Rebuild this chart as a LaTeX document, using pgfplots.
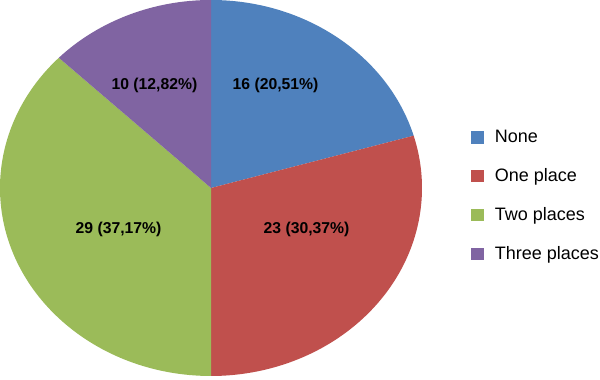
\documentclass[border=0pt]{standalone}
\usepackage{pgfplots}
\usepackage{pgfplotstable}
\pgfplotsset{compat=1.18}
\usepackage{fontspec}
\setmainfont{Liberation Sans}
\definecolor{pieblue}{HTML}{4F81BD}
\definecolor{piered}{HTML}{C0504D}
\definecolor{piegreen}{HTML}{9BBB59}
\definecolor{piepurple}{HTML}{8064A2}
\pgfplotstableread{
label value
None 16
{One place} 23
{Two places} 29
{Three places} 10
}\piedata
\begin{document}
\begin{tikzpicture}
\pgfplotstablegetelem{0}{value}\of\piedata \let\vA\pgfplotsretval
\pgfplotstablegetelem{1}{value}\of\piedata \let\vB\pgfplotsretval
\pgfplotstablegetelem{2}{value}\of\piedata \let\vC\pgfplotsretval
\pgfplotstablegetelem{3}{value}\of\piedata \let\vD\pgfplotsretval
\pgfmathsetmacro\total{\vA+\vB+\vC+\vD}
\pgfmathsetmacro\aA{90}
\pgfmathsetmacro\aB{\aA-360*\vA/\total}
\pgfmathsetmacro\aC{\aB-360*\vB/\total}
\pgfmathsetmacro\aD{\aC-360*\vC/\total}
\pgfmathsetmacro\aE{\aD-360*\vD/\total}
\def\rx{158.25pt}
\def\ry{141pt}
\begin{axis}[
  x=158.25pt, y=141pt,
  xmin=-1, xmax=1.8436, ymin=-1.016, ymax=1,
  hide axis, clip=false,
  legend style={at={(axis cs:1.232,0.324)}, anchor=north west, draw=none, fill=none,
    inner sep=0pt, font=\fontsize{13.5}{15}\selectfont, row sep=14pt,
    /tikz/every odd column/.append style={column sep=6pt}},
  legend cell align=left,
  legend image code/.code={\fill[#1, draw=none] (0pt,-4.75pt) rectangle (9.75pt,4.75pt);},
]
\coordinate (bl) at (axis cs:-1,-1.016);
\coordinate (tr) at (axis cs:1.8436,1);
\fill[pieblue] (axis cs:0,0) -- (axis cs:{cos(\aA)},{sin(\aA)}) arc[start angle=\aA, end angle=\aB, x radius=\rx, y radius=\ry] -- cycle;
\fill[piered] (axis cs:0,0) -- (axis cs:{cos(\aB)},{sin(\aB)}) arc[start angle=\aB, end angle=\aC, x radius=\rx, y radius=\ry] -- cycle;
\fill[piegreen] (axis cs:0,0) -- (axis cs:{cos(\aC)},{sin(\aC)}) arc[start angle=\aC, end angle=\aD, x radius=\rx, y radius=\ry] -- cycle;
\fill[piepurple] (axis cs:0,0) -- (axis cs:{cos(\aD)},{sin(\aD)}) arc[start angle=\aD, end angle=\aE, x radius=\rx, y radius=\ry] -- cycle;
\addlegendimage{fill=pieblue, draw=none}
\addlegendentry{None}
\addlegendimage{fill=piered, draw=none}
\addlegendentry{One place}
\addlegendimage{fill=piegreen, draw=none}
\addlegendentry{Two places}
\addlegendimage{fill=piepurple, draw=none}
\addlegendentry{Three places}
\begin{scope}[every node/.style={font=\fontsize{11.8}{13}\selectfont\bfseries, text=black}]
\node at (axis cs:0.306,0.548) {16 (20,51\%)};
\node at (axis cs:-0.268,0.548) {10 (12,82\%)};
\node at (axis cs:-0.438,-0.218) {29 (37,17\%)};
\node at (axis cs:0.453,-0.218) {23 (30,37\%)};
\end{scope}
\end{axis}
\pgfresetboundingbox
\path (bl) rectangle (tr);
\end{tikzpicture}
\end{document}
